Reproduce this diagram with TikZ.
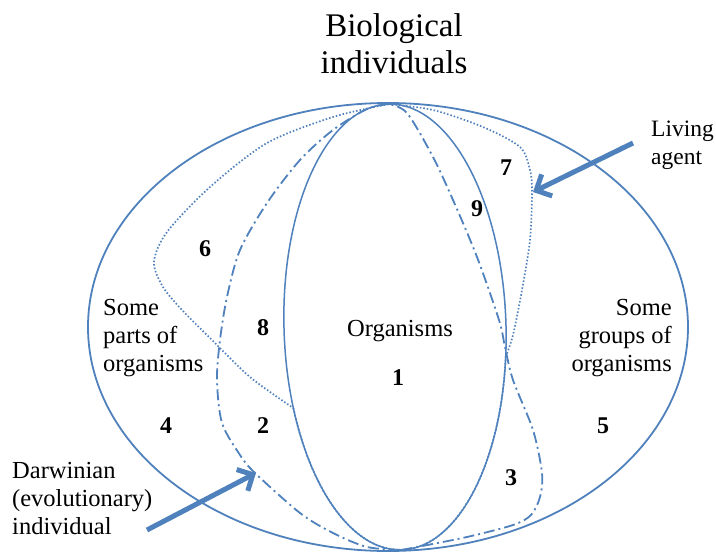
\documentclass[tikz,border=0pt]{standalone}
\usepackage{fontspec}
\setmainfont{Liberation Serif}
\usetikzlibrary{arrows.meta}
\definecolor{ob}{HTML}{4F81BD}
\tikzset{
  outerset/.style={draw=ob, line width=1.8pt},
  innerset/.style={draw=ob, line width=1.5pt},
  dashdotset/.style={draw=ob, line width=1.8pt, dash pattern=on 11pt off 4pt on 2pt off 4pt},
  dotset/.style={draw=ob, line width=1.7pt, dash pattern=on 1.5pt off 2pt},
  pointer/.style={draw=ob, line width=5pt, -{Straight Barb[length=12pt, width=24pt]}},
  lbl/.style={inner sep=0pt, font=\fontsize{24.5}{28}\selectfont},
  num/.style={inner sep=0pt, font=\fontsize{24}{28}\selectfont\bfseries},
}
\begin{document}
\begin{tikzpicture}[x=1pt, y=-1pt]
\useasboundingbox (0,0) rectangle (716,554);
\fill[white] (0,0) rectangle (716,554);

% outer set: biological individuals
\draw[outerset] (388,327) ellipse [x radius=300pt, y radius=224pt];

% inner set: organisms (slightly tilted)
\begin{scope}[rotate around={1.7:(395,327)}]
  \draw[innerset] (395,327) ellipse [x radius=111pt, y radius=223pt];
  \path (395,327) ++(90:111pt and 223pt) coordinate (T);
  \path (395,327) ++(270:111pt and 223pt) coordinate (B);
  \path (395,327) ++(200.5:111pt and 223pt) coordinate (dL);
  \path (395,327) ++(351.5:111pt and 223pt) coordinate (dR);
  \draw[dotset] (dL) arc[start angle=200.5, end angle=351.5, x radius=111pt, y radius=223pt];
\end{scope}

% living agent (dotted)
\draw[dotset] plot[smooth] coordinates {(T) (333,117) (267,143) (210,187) (167,232) (154,262) (163,287) (182,310) (210,338) (250,377) (dL)};
\draw[dotset] plot[smooth] coordinates {(dR) (513,335) (522,290) (530,240) (532,192) (530,170) (520,147) (483,127) (433,110) (T)};

% Darwinian individual (dash-dot)
\draw[dashdotset] plot[smooth] coordinates {(T) (367,109) (333,130) (300,160) (267,203) (240,250) (227,297) (220,340) (217,380) (222,423) (240,455) (255,473) (300,513) (333,533) (367,547) (B)};
\draw[dashdotset] plot[smooth] coordinates {(B) (417,547) (467,537) (513,525) (531,515) (540,497) (542,473) (533,430) (513,380) (505,347) (499,320) (477,257) (453,200) (433,157) (407,113) (T)};

% texts
\node[inner sep=0pt, align=center, font=\fontsize{33}{37}\selectfont] (title) at (394,44) {Biological\\individuals};
\node[lbl] (org) at (400,331) {Organisms};
\node[lbl, align=left, anchor=west] (parts) at (103,338) {Some\\parts of\\organisms};
\node[lbl, align=right, anchor=east] (groups) at (672,338) {Some\\groups of\\organisms};
\node[inner sep=0pt, font=\fontsize{23.5}{28}\selectfont, align=left, anchor=west] (living) at (651,145) {Living\\agent};
\node[lbl, align=left, anchor=west] (darwin) at (12,499) {Darwinian\\(evolutionary)\\individual};

\node[num] (n1) at (398,378) {1};
\node[num] (n2) at (263,426) {2};
\node[num] (n3) at (511,478) {3};
\node[num] (n4) at (166,426) {4};
\node[num] (n5) at (603,426) {5};
\node[num] (n6) at (205,249) {6};
\node[num] (n7) at (506,168) {7};
\node[num] (n8) at (263,328) {8};
\node[num] (n9) at (477,209) {9};

% pointers
\coordinate (la0) at (633,143);
\coordinate (la1) at (533,192);
\coordinate (da0) at (147,530);
\coordinate (da1) at (256,473);
\draw[pointer] (la0) -- (la1);
\draw[pointer] (da0) -- (da1);
\end{tikzpicture}
\end{document}
